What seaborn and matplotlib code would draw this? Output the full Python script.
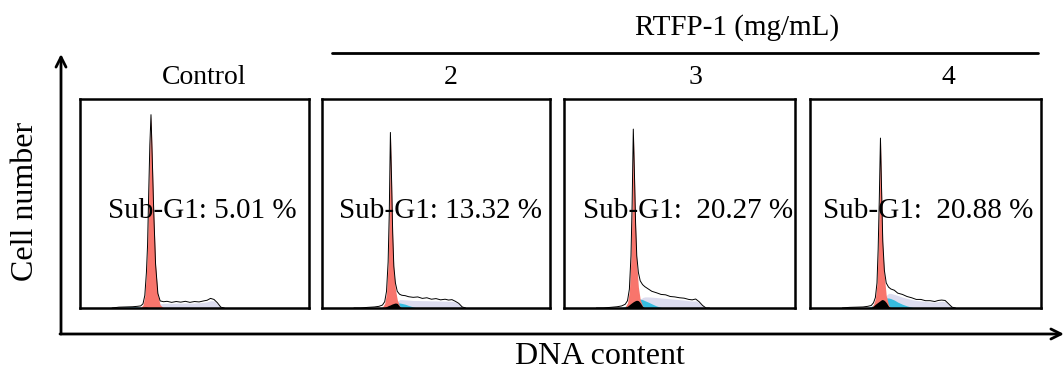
import numpy as np
import matplotlib
matplotlib.use("Agg")
import matplotlib.pyplot as plt
import seaborn as sns

#Chart data
groups = ["Control", "2", "3", "4"]
sub_g1_labels = ["Sub-G1: 5.01 %", "Sub-G1: 13.32 %", "Sub-G1:  20.27 %", "Sub-G1:  20.88 %"]

# DNA channel (percent of the panel width)
channel = [14, 17, 20, 23, 25, 26.5, 27.5, 28.3, 29, 29.5, 30, 30.5, 31, 31.5, 32.2, 33, 34,
           35, 36.5, 38, 40, 42, 44, 46, 48, 50, 52, 54, 55.5, 57, 58.5, 60, 61.5, 63]

#Control
total_1 = [0, 0.4, 0.5, 0.6, 0.8, 1.0, 2.0, 6, 17, 30, 55, 78, 92.5, 74, 46, 21, 7,
           3.4, 3.0, 3.2, 2.7, 3.1, 2.8, 3.2, 2.7, 3.1, 2.9, 3.4, 3.7, 4.6, 4.1, 2.5, 0.4, 0]
g1_1 = [0, 0, 0, 0, 0, 0.3, 1.4, 5.6, 16.5, 29.5, 54.5, 77.5, 92, 73.5, 45.5, 20.5, 6,
        1.5, 0, 0, 0, 0, 0, 0, 0, 0, 0, 0, 0, 0, 0, 0, 0, 0]
s_1 = [0, 0.2, 0.4, 0.5, 0.5, 0.4, 0.2, 0, 0, 0, 0, 0, 0, 0, 0, 0, 0,
       0, 0, 0, 0, 0, 0, 0, 0, 0, 0, 0, 0, 0, 0, 0, 0, 0]
sub_1 = [0, 0, 0, 0, 0, 0.1, 0.3, 0.4, 0.4, 0.3, 0.2, 0.1, 0, 0, 0, 0, 0,
         0, 0, 0, 0, 0, 0, 0, 0, 0, 0, 0, 0, 0, 0, 0, 0, 0]
g2_1 = [0, 0, 0, 0, 0, 0, 0, 0, 0, 0, 0, 0, 0, 0, 0, 0, 1.0,
        2.0, 2.2, 2.3, 2.2, 2.3, 2.3, 2.4, 2.3, 2.4, 2.5, 2.7, 3.0, 3.5, 3.4, 2.0, 0.3, 0]

#2 mg/mL
total_2 = [0, 0, 0.3, 0.5, 0.8, 1.4, 3, 8, 22, 45, 84, 62, 36, 20, 12, 8, 6.6,
           6.1, 5.9, 5.4, 5.1, 5.3, 4.6, 4.9, 4.2, 4.5, 3.9, 4.2, 3.8, 4.0, 3.2, 2.2, 0.5, 0]
g1_2 = [0, 0, 0, 0, 0, 0.4, 2.2, 7, 21, 44, 83.5, 61, 35, 18, 9, 4, 1.0,
        0, 0, 0, 0, 0, 0, 0, 0, 0, 0, 0, 0, 0, 0, 0, 0, 0]
s_2 = [0, 0, 0, 0, 0, 0.3, 0.6, 0.9, 1.2, 1.4, 1.6, 1.7, 1.9, 2.0, 2.2, 2.4, 2.4,
       2.2, 1.8, 1.2, 0.5, 0, 0, 0, 0, 0, 0, 0, 0, 0, 0, 0, 0, 0]
sub_2 = [0, 0, 0, 0, 0, 0, 0.3, 0.7, 1.1, 1.3, 1.5, 1.8, 2.0, 2.2, 2.4, 2.2, 0.8,
         0, 0, 0, 0, 0, 0, 0, 0, 0, 0, 0, 0, 0, 0, 0, 0, 0]
g2_2 = [0, 0, 0, 0, 0, 0, 0, 0, 0, 0, 0, 0, 0, 0, 0, 3.0, 4.0,
        4.0, 3.9, 3.8, 3.6, 3.6, 3.5, 3.5, 3.4, 3.4, 3.3, 3.3, 3.2, 3.2, 2.8, 2.0, 0.4, 0]

#3 mg/mL
total_3 = [0, 0, 0.3, 0.6, 1.0, 1.8, 3.5, 9, 25, 50, 85.6, 64, 40, 25, 17, 13, 11.2,
           10.2, 9.1, 8.0, 7.3, 6.5, 6.3, 5.5, 5.3, 4.9, 4.7, 4.1, 3.9, 4.3, 3.0, 1.2, 0, 0]
g1_3 = [0, 0, 0, 0, 0, 0.5, 2.5, 8, 24, 49, 85, 63, 39, 21, 10, 4, 1.0,
        0, 0, 0, 0, 0, 0, 0, 0, 0, 0, 0, 0, 0, 0, 0, 0, 0]
s_3 = [0, 0, 0, 0, 0.3, 0.8, 1.5, 2.2, 2.8, 3.2, 3.5, 3.8, 4.0, 4.2, 4.3, 4.3, 4.0,
       3.5, 2.8, 2.0, 1.0, 0.3, 0, 0, 0, 0, 0, 0, 0, 0, 0, 0, 0, 0]
sub_3 = [0, 0, 0, 0, 0, 0.3, 0.9, 1.6, 2.2, 2.6, 3.0, 3.3, 3.6, 3.7, 3.5, 2.5, 0.8,
         0, 0, 0, 0, 0, 0, 0, 0, 0, 0, 0, 0, 0, 0, 0, 0, 0]
g2_3 = [0, 0, 0, 0, 0, 0, 0, 0, 0, 0, 0, 0, 0, 0, 0, 4.0, 5.0,
        5.3, 5.3, 5.2, 5.0, 4.8, 4.6, 4.4, 4.2, 4.0, 3.8, 3.5, 3.3, 3.4, 2.6, 1.0, 0, 0]

#4 mg/mL
total_4 = [0, 0.3, 0.4, 0.5, 0.8, 1.2, 2.5, 5, 12, 28, 52, 81.3, 56, 32, 18, 12, 10,
           9.1, 8.5, 7.1, 6.5, 5.5, 4.9, 4.1, 4.1, 3.5, 3.5, 3.1, 3.6, 3.8, 3.6, 2.0, 0.4, 0]
g1_4 = [0, 0, 0, 0, 0, 0.3, 1.7, 4.5, 11.5, 27.5, 51.5, 81, 55, 30, 15, 6, 1.5,
        0, 0, 0, 0, 0, 0, 0, 0, 0, 0, 0, 0, 0, 0, 0, 0, 0]
s_4 = [0, 0, 0, 0, 0.3, 0.8, 1.4, 2.0, 2.6, 3.0, 3.4, 3.7, 4.0, 4.3, 4.6, 4.8, 4.8,
       4.5, 3.8, 2.8, 1.8, 1.0, 0.4, 0, 0, 0, 0, 0, 0, 0, 0, 0, 0, 0]
sub_4 = [0, 0, 0, 0, 0, 0.3, 1.0, 1.8, 2.4, 2.8, 3.2, 3.6, 4.0, 4.0, 3.6, 2.6, 0.8,
         0, 0, 0, 0, 0, 0, 0, 0, 0, 0, 0, 0, 0, 0, 0, 0, 0]
g2_4 = [0, 0, 0, 0, 0, 0, 0, 0, 0, 0, 0, 0, 0, 0, 0, 6.0, 7.0,
        7.0, 6.5, 6.0, 5.2, 4.6, 4.0, 3.6, 3.4, 3.1, 2.9, 2.8, 3.0, 3.2, 3.0, 1.6, 0.3, 0]

totals = [total_1, total_2, total_3, total_4]
g1s = [g1_1, g1_2, g1_3, g1_4]
ss = [s_1, s_2, s_3, s_4]
subs = [sub_1, sub_2, sub_3, sub_4]
g2s = [g2_1, g2_2, g2_3, g2_4]

#Style
sns.set_style("white")
plt.rcParams['font.family'] = ['Liberation Serif', 'DejaVu Serif']
plt.rcParams['text.color'] = 'black'

W, H = 1064, 380
fig = plt.figure(figsize=(W / 100, H / 100), dpi=100)

# panel boxes in pixels: left, right, top, bottom
boxes = [(80, 309, 99, 308), (322, 550, 99, 308), (564, 795, 99, 308), (810, 1041, 99, 308)]
title_x = [204, 451, 696, 948]
label_x = [108, 339, 583, 823]

for i in range(4):
    l, r, t, b = boxes[i]
    ax = fig.add_axes([l / W, 1 - b / H, (r - l) / W, (b - t) / H])
    x = np.array(channel)
    ax.fill_between(x, g2s[i], color='#dcdcef', lw=0)
    ax.fill_between(x, ss[i], color='#36bde0', lw=0)
    ax.fill_between(x, g1s[i], color='#f8756c', lw=0)
    ax.fill_between(x, subs[i], color='black', lw=0)
    sns.lineplot(x=channel, y=totals[i], ax=ax, color='black', lw=0.7, sort=False)
    ax.set_xlim(0, 100)
    ax.set_ylim(0, 100)
    ax.set_xticks([])
    ax.set_yticks([])
    ax.set_xlabel('')
    ax.set_ylabel('')
    for s in ax.spines.values():
        s.set_color('black')
        s.set_linewidth(1.8)

#Overlay for arrows and labels
ov = fig.add_axes([0, 0, 1, 1])
ov.set_xlim(0, W)
ov.set_ylim(H, 0)
ov.axis('off')
ov.set_zorder(10)
ov.annotate('', xy=(61, 54), xytext=(61, 334),
            arrowprops=dict(arrowstyle='->', lw=2, color='black', mutation_scale=18, shrinkA=0, shrinkB=0))
ov.annotate('', xy=(1064, 334), xytext=(60, 334),
            arrowprops=dict(arrowstyle='->', lw=2, color='black', mutation_scale=18, shrinkA=0, shrinkB=0))
ov.plot([332, 1038], [53, 53], color='black', lw=2)

ov.text(737, 28, 'RTFP-1 (mg/mL)', fontsize=21, ha='center', va='center', color='black')
for i in range(4):
    ov.text(title_x[i], 78, groups[i], fontsize=20, ha='center', va='center', color='black')
    ov.text(label_x[i], 211, sub_g1_labels[i], fontsize=21, ha='left', va='center', color='black')
ov.text(26, 201, 'Cell number', fontsize=23, rotation=90, ha='center', va='center', color='black')
ov.text(600, 356, 'DNA content', fontsize=23, ha='center', va='center', color='black')

fig.savefig('out.png', dpi=100)
